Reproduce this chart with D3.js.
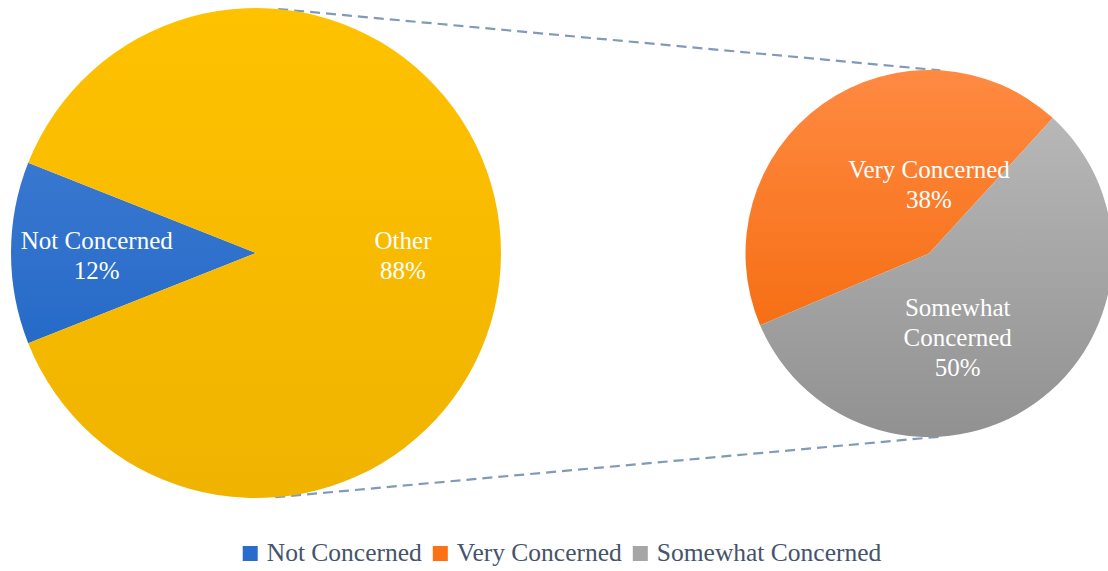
<!DOCTYPE html>
<html>
<head>
<meta charset="utf-8">
<script src="https://cdn.jsdelivr.net/npm/d3@7"></script>
<style>
  html, body { margin: 0; padding: 0; background: #ffffff; }
  svg { display: block; }
</style>
</head>
<body>
<svg id="chart" width="1108" height="571"></svg>
<script>
// Primary pie: share not concerned vs. everyone else
const mainCategories = ["Not Concerned", "Other"];
const mainValues = [12, 88];

// Secondary pie: breakdown of "Other"
const subCategories = ["Very Concerned", "Somewhat Concerned"];
const subValues = [38, 50];

// Legend entries
const legendCategories = ["Not Concerned", "Very Concerned", "Somewhat Concerned"];

const FONT = '"Liberation Serif"';

// Fill gradients (top colour, bottom colour) per category
const gradientStops = {
  "Not Concerned": ["#4a82d6", "#1560c2"],
  "Other": ["#ffc200", "#f0b300"],
  "Very Concerned": ["#ff8a42", "#f26300"],
  "Somewhat Concerned": ["#bdbdbd", "#919191"]
};
const legendColors = {
  "Not Concerned": "#2a6ccc",
  "Very Concerned": "#fb7114",
  "Somewhat Concerned": "#a6a6a6"
};

const svg = d3.select("#chart");
const defs = svg.append("defs");

// Layout
const main = { cx: 256, cy: 253, r: 245 };
const sub = { cx: 929, cy: 253.5, r: 183.5 };
const deg = Math.PI / 180;

// Label anchor per slice: polar angle (deg, clockwise from 12 o'clock) and radius fraction
const mainLabelPos = [{ a: 269.2, f: 0.65 }, { a: 90.8, f: 0.6 }];
const subLabelPos = [{ a: 0, f: 0.38 }, { a: 161, f: 0.48 }];

function makeGradient(id, stops, cy, r) {
  const g = defs.append("linearGradient")
    .attr("id", id)
    .attr("gradientUnits", "userSpaceOnUse")
    .attr("x1", 0).attr("x2", 0)
    .attr("y1", cy - r).attr("y2", cy + r);
  g.append("stop").attr("offset", "0%").attr("stop-color", stops[0]);
  g.append("stop").attr("offset", "100%").attr("stop-color", stops[1]);
}

function drawPie(cfg, categories, values, startDeg, labelPos, prefix) {
  const pie = d3.pie().sort(null)
    .startAngle(startDeg * deg)
    .endAngle(startDeg * deg + 2 * Math.PI);
  const arc = d3.arc().innerRadius(0).outerRadius(cfg.r);
  const data = categories.map((c, i) => ({ name: c, value: values[i] }));
  const arcs = pie.value(d => d.value)(data);

  categories.forEach((c, i) => makeGradient(prefix + i, gradientStops[c], 0, cfg.r));

  const g = svg.append("g").attr("transform", `translate(${cfg.cx},${cfg.cy})`);
  g.selectAll("path.slice").data(arcs).join("path")
    .attr("class", "slice")
    .attr("d", arc)
    .attr("fill", (d, i) => `url(#${prefix}${i})`);

  const labels = g.selectAll("text.lbl").data(arcs).join("text")
    .attr("class", "lbl")
    .attr("text-anchor", "middle")
    .attr("fill", "#ffffff")
    .attr("font-size", 25)
    .style("font-family", FONT)
    .attr("transform", (d, i) => {
      const p = labelPos[i];
      const rr = p.f * cfg.r;
      return `translate(${rr * Math.sin(p.a * deg)},${-rr * Math.cos(p.a * deg)})`;
    });

  labels.each(function (d) {
    const words = d.data.name === "Somewhat Concerned" ? ["Somewhat", "Concerned"] : [d.data.name];
    const pct = Math.round(d.data.value) + "%";
    const lines = words.concat([pct]);
    const lh = 30;
    const top = -((lines.length - 1) * lh) / 2;
    d3.select(this).selectAll("tspan").data(lines).join("tspan")
      .attr("x", 0)
      .attr("y", (t, k) => top + k * lh)
      .attr("dy", "0.35em")
      .text(t => t);
  });
  return arcs;
}

// Connector lines between the two pies
const connectors = [
  { fromA: 5.2, toA: 3.5 },
  { fromA: 175.5, toA: 176.5 }
];
svg.append("g").selectAll("line").data(connectors).join("line")
  .attr("x1", d => main.cx + main.r * Math.sin(d.fromA * deg))
  .attr("y1", d => main.cy - main.r * Math.cos(d.fromA * deg))
  .attr("x2", d => sub.cx + sub.r * Math.sin(d.toA * deg))
  .attr("y2", d => sub.cy - sub.r * Math.cos(d.toA * deg))
  .attr("stroke", "#8399b8")
  .attr("stroke-width", 2.2)
  .attr("stroke-dasharray", "10,6");

drawPie(main, mainCategories, mainValues, 270 - mainValues[0] / d3.sum(mainValues) * 180, mainLabelPos, "gm");
drawPie(sub, subCategories, subValues, 247, subLabelPos, "gs");

// Legend
const swatch = 15, textGap = 24, itemGap = 11;
const legend = svg.append("g");
const items = legend.selectAll("g").data(legendCategories).join("g");
items.append("rect")
  .attr("width", swatch).attr("height", swatch)
  .attr("y", -swatch)
  .attr("fill", d => legendColors[d]);
items.append("text")
  .attr("x", textGap)
  .attr("font-size", 25.5)
  .style("font-family", FONT)
  .attr("fill", "#44546a")
  .text(d => d);
let x = 0;
const widths = [];
items.each(function () {
  widths.push(textGap + this.querySelector("text").getComputedTextLength());
});
items.attr("transform", (d, i) => {
  const t = `translate(${x},0)`;
  x += widths[i] + itemGap;
  return t;
});
const totalW = x - itemGap;
legend.attr("transform", `translate(${562 - totalW / 2},561)`);
</script>
</body>
</html>
